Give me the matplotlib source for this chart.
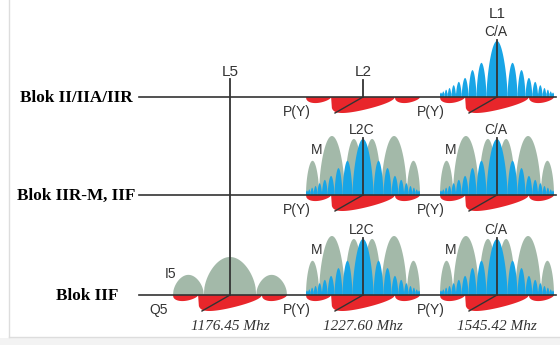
import numpy as np
import matplotlib.pyplot as plt

# GPS signal spectra per satellite block (schematic)
blocks = ["Blok II/IIA/IIR", "Blok IIR-M, IIF", "Blok IIF"]
bands = ["L5", "L2", "L1"]
freq_labels = ["1176.45 Mhz", "1227.60 Mhz", "1545.42 Mhz"]

# which signals each block transmits on which band
block_signals = [
    [("L2", "P(Y)"), ("L1", "P(Y)"), ("L1", "C/A")],
    [("L2", "P(Y)"), ("L2", "M"), ("L2", "L2C"),
     ("L1", "P(Y)"), ("L1", "M"), ("L1", "C/A")],
    [("L5", "Q5"), ("L5", "I5"),
     ("L2", "P(Y)"), ("L2", "M"), ("L2", "L2C"),
     ("L1", "P(Y)"), ("L1", "M"), ("L1", "C/A")],
]

# lobe shapes: outer edge of each lobe (fraction of half span)
# and relative lobe height
ca_edges = [0.185, 0.36, 0.5, 0.62, 0.72, 0.8, 0.865, 0.92, 0.965, 1.0]
ca_heights = [1.0, 0.61, 0.48, 0.34, 0.27, 0.21, 0.16, 0.13, 0.10, 0.08]
m_edges = [0.32, 0.77, 1.0]
m_heights = [0.95, 1.0, 0.58]
py_edges = [0.56, 1.0]
py_heights = [1.0, 0.38]
i5_edges = [0.46, 1.0]
i5_heights = [1.0, 0.53]

# layout (pixels)
band_x = {"L5": 230, "L2": 363, "L1": 497}
row_y = [97, 195, 295]
label_right = [133, 135, 118]
half_span = 57
sig_height = {"C/A": 56, "L2C": 56, "M": 59, "I5": 38, "P(Y)": 16, "Q5": 16}
# edges, heights, roundness, split centre, left-lean of each lobe (main, side)
sig_shape = {"C/A": (ca_edges, ca_heights, 0.6, False, (1.0, 1.0)),
             "L2C": (ca_edges, ca_heights, 0.6, False, (1.0, 1.0)),
             "M": (m_edges, m_heights, 0.5, True, (1.0, 1.0)),
             "I5": (i5_edges, i5_heights, 0.5, False, (1.0, 1.0)),
             "P(Y)": (py_edges, py_heights, 0.55, False, (0.4, 0.7)),
             "Q5": (py_edges, py_heights, 0.55, False, (0.4, 0.7))}
sig_color = {"C/A": "#18a5e6", "L2C": "#18a5e6", "M": "#a3b9a9",
             "I5": "#a3b9a9", "P(Y)": "#e8262b", "Q5": "#e8262b"}
below = {"P(Y)", "Q5"}
dark = "#333333"
sans = "Liberation Sans"
serif = "Liberation Serif"


def lobes(edges, heights, p, split, lean):
    # list of (u, h) arrays, one per lobe, u in [-1, 1]
    out = []
    lo = 0.0
    t = np.linspace(0, 1, 80)
    for k, (e, hk) in enumerate(zip(edges, heights)):
        w = lean[0] if k == 0 else lean[1]
        h = hk * np.sin(np.pi * t ** w) ** p
        if k == 0 and not split:
            out.append((-e + 2 * e * t, h))
        else:
            out.append((lo + t * (e - lo), h))
            out.append((-e + t * (e - lo), h))
        lo = e
    return out


fig = plt.figure(figsize=(5.6, 3.45), dpi=100)
ax = fig.add_axes([0, 0, 1, 1])
ax.set_xlim(0, 560)
ax.set_ylim(345, 0)
ax.axis("off")

# light frame
ax.fill_between([0, 560], 338, 345, color="#f3f3f3", lw=0)
ax.plot([9, 9], [0, 337], color="#dddddd", lw=1)
ax.plot([9, 560], [337, 337], color="#dddddd", lw=1)

order = ["P(Y)", "Q5", "M", "I5", "C/A", "L2C"]
for r, (name, y0) in enumerate(zip(blocks, row_y)):
    sigs = sorted(block_signals[r], key=lambda s: order.index(s[1]))
    for band, sig in sigs:
        xc = band_x[band]
        H = sig_height[sig]
        edges, heights, p, split, lean = sig_shape[sig]
        for u, h in lobes(edges, heights, p, split, lean):
            xs = xc + u * half_span
            if sig in below:
                ys = y0 + h * H
            else:
                ys = y0 - h * H
                if sig in ("C/A", "L2C"):
                    ys = np.minimum(ys, y0 - 3.5)
            ax.fill(np.r_[xs, xs[-1], xs[0]], np.r_[ys, y0, y0],
                    color=sig_color[sig], lw=0, zorder=2)
        if sig in below:
            ax.plot([xc, xc - 28], [y0, y0 + H], color=dark, lw=1, zorder=4)
            ax.text(xc - 66 if sig == "P(Y)" else xc - 71, y0 + 19, sig,
                    fontsize=10, family=sans, color=dark, ha="center", va="baseline")
        elif sig == "M":
            ax.text(xc - 46, y0 - 41, sig, fontsize=10, family=sans,
                    color=dark, ha="center", va="baseline")
        elif sig == "I5":
            ax.text(xc - 59, y0 - 17, sig, fontsize=10, family=sans,
                    color=dark, ha="center", va="baseline")
        else:
            ax.plot([xc, xc], [y0, y0 - H - 1], color=dark, lw=1.3, zorder=4)
            ax.text(xc - 1, y0 - 61, sig, fontsize=10, family=sans,
                    color=dark, ha="center", va="baseline")

    ax.plot([139, 556], [y0, y0], color=dark, lw=1.2, zorder=3)
    ax.text(label_right[r], y0 + 4.5, name, fontsize=12.3, family=serif,
            weight="bold", ha="right", va="baseline", color="black")

# band markers on the top row
ax.plot([band_x["L5"], band_x["L5"]], [79, row_y[2]], color=dark, lw=1.3, zorder=4)
ax.plot([band_x["L2"], band_x["L2"]], [80, row_y[0]], color=dark, lw=1.3, zorder=4)
ax.text(band_x["L5"], 76, "L5", fontsize=11, family=sans, color=dark,
        ha="center", va="baseline")
ax.text(band_x["L2"], 76, "L2", fontsize=11, family=sans, color=dark,
        ha="center", va="baseline")
ax.text(band_x["L1"], 18, "L1", fontsize=11, family=sans, color=dark,
        ha="center", va="baseline")

for band, lab in zip(bands, freq_labels):
    ax.text(band_x[band], 330, lab, fontsize=11, family=serif, style="italic",
            color=dark, ha="center", va="baseline")

fig.savefig("out.png", dpi=100)
